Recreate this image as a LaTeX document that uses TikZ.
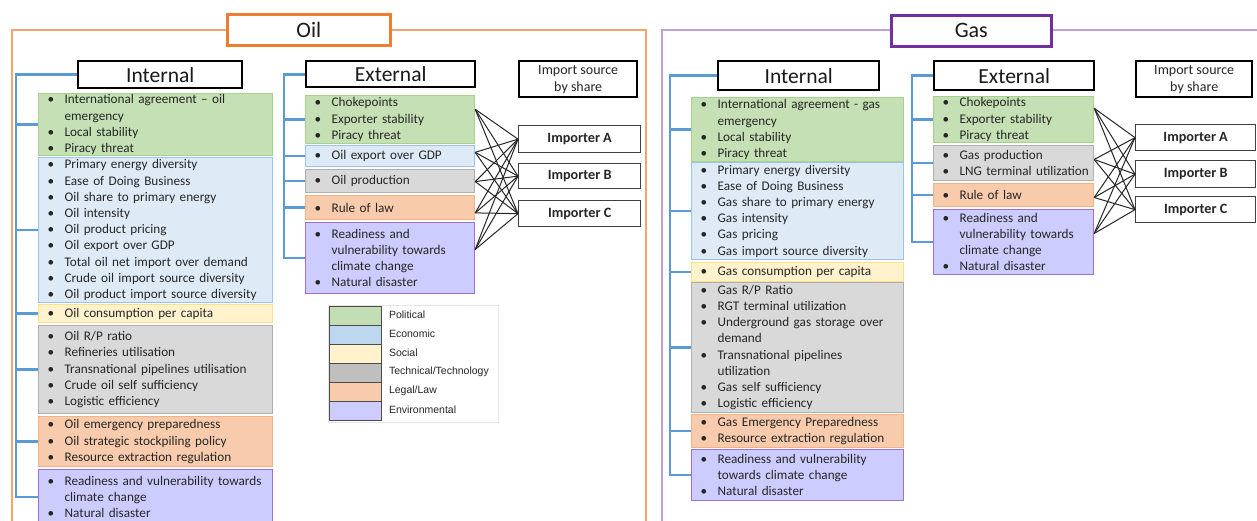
\documentclass[tikz,border=0pt]{standalone}
\usepackage{fontspec}
\setmainfont{Carlito}
\newfontfamily\lgfont{Liberation Sans}
\usetikzlibrary{calc}
\definecolor{gFill}{HTML}{C5E0B4}\definecolor{gDraw}{HTML}{A9D18E}
\definecolor{bFill}{HTML}{DEEBF7}\definecolor{bDraw}{HTML}{9DC3E6}
\definecolor{yFill}{HTML}{FFF2CC}\definecolor{yDraw}{HTML}{FFE08A}
\definecolor{tFill}{HTML}{D9D9D9}\definecolor{tDraw}{HTML}{AFAFAF}
\definecolor{oFill}{HTML}{F8CBAD}\definecolor{oDraw}{HTML}{F4B183}
\definecolor{pFill}{HTML}{CCCCFF}\definecolor{pDraw}{HTML}{9E6FD0}
\definecolor{brk}{HTML}{5B9BD5}
\definecolor{oilC}{HTML}{ED7D31}
\definecolor{gasC}{HTML}{7030A0}
\definecolor{txt}{HTML}{262626}
\definecolor{lgG}{HTML}{C3DEB4}\definecolor{lgB}{HTML}{BDD7EE}
\definecolor{lgY}{HTML}{FFF2CC}\definecolor{lgT}{HTML}{BFBFBF}
\definecolor{lgO}{HTML}{F8CBAD}\definecolor{lgP}{HTML}{CCCCFF}
\newcommand{\bu}[1]{\mbox{\makebox[17pt][l]{\textbullet}#1}}
\newcommand{\cn}[1]{\mbox{\hspace*{17pt}#1}}
\tikzset{
  itm/.style={anchor=north west, inner xsep=9pt, inner ysep=1pt, align=left,
    font=\fontsize{13.2}{16.2}\selectfont, text=txt, line width=1.2pt},
  cat/.style n args={3}{itm, fill=#1Fill, draw=#1Draw, text width=#2pt, minimum height=#3pt},
  hdr/.style={draw=black, line width=2.4pt, fill=white, anchor=north west, inner sep=0pt,
    font=\fontsize{21.5}{24}\selectfont, text=black!90},
  ttl/.style={line width=2.6pt, fill=white, anchor=north west, inner sep=0pt,
    font=\fontsize{22}{24}\selectfont, text=black!90},
  src/.style={draw=black, line width=2.4pt, fill=white, anchor=north west, inner sep=0pt,
    align=center, font=\fontsize{14}{17}\selectfont, text=txt},
  imp/.style={draw=black!75, line width=1.3pt, fill=white, anchor=north west, inner sep=0pt,
    font=\bfseries\fontsize{14.2}{17}\selectfont, text=txt},
  bracket/.style={draw=brk, line width=2.6pt, line join=miter},
  conn/.style={draw=black!85, line width=1pt},
  swatch/.style={draw=black!70, line width=0.8pt, anchor=north west, minimum width=52pt, minimum height=19pt, inner sep=0pt},
  lgtext/.style={anchor=west, inner sep=0pt, font=\lgfont\fontsize{10.5}{12}\selectfont, text=black!85}
}
\begin{document}
\begin{tikzpicture}[x=1pt,y=-1pt]
\clip (0,0) rectangle (1257,520);
\fill[white] (0,0) rectangle (1257,520);
% frames
\draw[oilC!70, line width=1.3pt] (12,530) -- (12,30) -- (646,30) -- (646,530);
\draw[gasC!45, line width=1.3pt] (662,530) -- (662,30) -- (1260,30);
\node[ttl, draw=oilC, minimum width=163pt, minimum height=31pt] (oilT) at (226,13) {Oil};
\node[ttl, draw=gasC, minimum width=160pt, minimum height=31pt] (gasT) at (890,14) {Gas};

% ===== OIL internal
\node[hdr, minimum width=164pt, minimum height=27pt] (oiH) at (77,60) {Internal};
\node[cat={g}{216}{62}] (oiG) at (38,93) {\bu{International agreement – oil}\\\cn{emergency}\\\bu{Local stability}\\\bu{Piracy threat}};
\node[cat={b}{216}{145}] (oiB) at (38,157) {\bu{Primary energy diversity}\\\bu{Ease of Doing Business}\\\bu{Oil share to primary energy}\\\bu{Oil intensity}\\\bu{Oil product pricing}\\\bu{Oil export over GDP}\\\bu{Total oil net import over demand}\\\bu{Crude oil import source diversity}\\\bu{Oil product import source diversity}};
\node[cat={y}{216}{18}] (oiY) at (38,304) {\bu{Oil consumption per capita}};
\node[cat={t}{216}{88}] (oiT) at (38,325) {\bu{Oil R/P ratio}\\\bu{Refineries utilisation}\\\bu{Transnational pipelines utilisation}\\\bu{Crude oil self sufficiency}\\\bu{Logistic efficiency}};
\node[cat={o}{216}{50}] (oiO) at (38,416) {\bu{Oil emergency preparedness}\\\bu{Oil strategic stockpiling policy}\\\bu{Resource extraction regulation}};
\node[cat={p}{216}{55}] (oiP) at (38,469) {\bu{Readiness and vulnerability towards}\\\cn{climate change}\\\bu{Natural disaster}};
\coordinate (oiS) at (16,0);
\draw[bracket] (oiH.west) -- (oiH.west -| oiS) |- (oiP.west);
\foreach \b in {oiG,oiB,oiY,oiT,oiO} \draw[bracket] (oiS |- \b.west) -- (\b.west);

% ===== OIL external
\node[hdr, minimum width=169pt, minimum height=26pt] (oeH) at (305,60) {External};
\node[cat={g}{151}{48}] (oeG) at (305,95) {\bu{Chokepoints}\\\bu{Exporter stability}\\\bu{Piracy threat}};
\node[cat={b}{151}{21}] (oeB) at (305,145) {\bu{Oil export over GDP}};
\node[cat={t}{151}{23}] (oeT) at (305,169) {\bu{Oil production}};
\node[cat={o}{151}{24}] (oeO) at (305,195) {\bu{Rule of law}};
\node[cat={p}{151}{71}] (oeP) at (305,222) {\bu{Readiness and}\\\cn{vulnerability towards}\\\cn{climate change}\\\bu{Natural disaster}};
\coordinate (oeS) at (284,0);
\draw[bracket] (oeH.west) -- (oeH.west -| oeS) |- (oeP.west);
\foreach \b in {oeG,oeB,oeT,oeO} \draw[bracket] (oeS |- \b.west) -- (\b.west);

\node[src, minimum width=118pt, minimum height=36pt] (oS) at (518,60) {Import source\\by share};
\node[imp, minimum width=122pt, minimum height=27pt] (oA) at (518,125) {Importer A};
\node[imp, minimum width=122pt, minimum height=25pt] (oB) at (518,163) {Importer B};
\node[imp, minimum width=122pt, minimum height=26pt] (oC) at (518,200) {Importer C};
\foreach \s/\f in {oeG/0.29,oeB/0.33,oeT/0.52,oeO/0.71,oeP/0.38}
  \foreach \t in {oA,oB,oC}
    \draw[conn] ($(\s.north east)!\f!(\s.south east)$) -- (\t.west);

% legend
\node[draw=black!10, line width=0.6pt, anchor=north west, minimum width=170pt, minimum height=117pt, inner sep=0pt] (lg) at (328,305) {};
\node[swatch, fill=lgG] (l1) at (329,306) {};
\node[swatch, fill=lgB] (l2) at (329,325) {};
\node[swatch, fill=lgY] (l3) at (329,344) {};
\node[swatch, fill=lgT] (l4) at (329,363) {};
\node[swatch, fill=lgO] (l5) at (329,382) {};
\node[swatch, fill=lgP] (l6) at (329,401) {};
\node[lgtext] (t1) at ($(l1.east)+(7,-1)$) {Political};
\node[lgtext] (t2) at ($(l2.east)+(7,-1)$) {Economic};
\node[lgtext] (t3) at ($(l3.east)+(7,-1)$) {Social};
\node[lgtext] (t4) at ($(l4.east)+(7,-1)$) {Technical/Technology};
\node[lgtext] (t5) at ($(l5.east)+(7,-1)$) {Legal/Law};
\node[lgtext] (t6) at ($(l6.east)+(7,-1)$) {Environmental};

% ===== GAS internal
\node[hdr, minimum width=161pt, minimum height=29pt] (giH) at (717,60) {Internal};
\node[cat={g}{194}{64}] (giG) at (691,97) {\bu{International agreement - gas}\\\cn{emergency}\\\bu{Local stability}\\\bu{Piracy threat}};
\node[cat={b}{194}{97}] (giB) at (691,162) {\bu{Primary energy diversity}\\\bu{Ease of Doing Business}\\\bu{Gas share to primary energy}\\\bu{Gas intensity}\\\bu{Gas pricing}\\\bu{Gas import source diversity}};
\node[cat={y}{194}{19}] (giY) at (691,262) {\bu{Gas consumption per capita}};
\node[cat={t}{194}{130}] (giT) at (691,282) {\bu{Gas R/P Ratio}\\\bu{RGT terminal utilization}\\\bu{Underground gas storage over}\\\cn{demand}\\\bu{Transnational pipelines}\\\cn{utilization}\\\bu{Gas self sufficiency}\\\bu{Logistic efficiency}};
\node[cat={o}{194}{33}] (giO) at (691,414) {\bu{Gas Emergency Preparedness}\\\bu{Resource extraction regulation}};
\node[cat={p}{194}{51}] (giP) at (691,449) {\bu{Readiness and vulnerability}\\\cn{towards climate change}\\\bu{Natural disaster}};
\coordinate (giS) at (670,0);
\draw[bracket] (giH.west) -- (giH.west -| giS) |- (giP.west);
\foreach \b in {giG,giB,giY,giT,giO} \draw[bracket] (giS |- \b.west) -- (\b.west);

% ===== GAS external
\node[hdr, minimum width=160pt, minimum height=29pt] (geH) at (933,60) {External};
\node[cat={g}{142}{46}] (geG) at (933,96) {\bu{Chokepoints}\\\bu{Exporter stability}\\\bu{Piracy threat}};
\node[cat={t}{142}{35}] (geT) at (933,145) {\bu{Gas production}\\\bu{LNG terminal utilization}};
\node[cat={o}{142}{23}] (geO) at (933,183) {\bu{Rule of law}};
\node[cat={p}{142}{65}] (geP) at (933,209) {\bu{Readiness and}\\\cn{vulnerability towards}\\\cn{climate change}\\\bu{Natural disaster}};
\coordinate (geS) at (912,0);
\draw[bracket] (geH.west) -- (geH.west -| geS) |- (geP.west);
\foreach \b in {geG,geT,geO} \draw[bracket] (geS |- \b.west) -- (\b.west);

\node[src, minimum width=116pt, minimum height=36pt] (gS) at (1135,60) {Import source\\by share};
\node[imp, minimum width=120pt, minimum height=26pt] (gA) at (1135,124) {Importer A};
\node[imp, minimum width=120pt, minimum height=27pt] (gB) at (1135,160) {Importer B};
\node[imp, minimum width=120pt, minimum height=26pt] (gC) at (1135,196) {Importer C};
\foreach \s/\f in {geG/0.26,geT/0.4,geO/0.6,geP/0.37}
  \foreach \t in {gA,gB,gC}
    \draw[conn] ($(\s.north east)!\f!(\s.south east)$) -- (\t.west);
\end{tikzpicture}
\end{document}
